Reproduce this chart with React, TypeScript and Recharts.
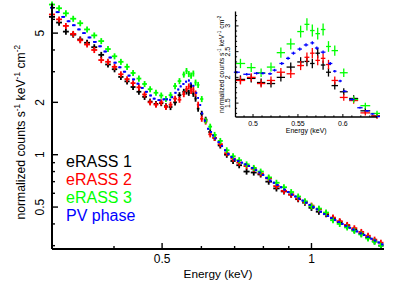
import { ScatterChart, Scatter, XAxis, YAxis, ErrorBar, Legend, CartesianGrid } from 'recharts';

const FONT = '"Liberation Sans", Arial, Helvetica, sans-serif';

// eRASS grouped spectra share one energy grid (keV)
const E_ERASS = [
  0.300, 0.310, 0.320, 0.331, 0.342, 0.353, 0.365, 0.377, 0.389, 0.401, 0.413, 0.425, 0.437, 0.449, 0.461, 0.473,
  0.486, 0.498, 0.509, 0.520, 0.531, 0.542, 0.553, 0.560, 0.566, 0.572, 0.578, 0.584, 0.591, 0.601, 0.612, 0.625, 0.638,
  0.655, 0.675, 0.695, 0.715, 0.740, 0.765, 0.790, 0.820, 0.850, 0.880, 0.910, 0.940, 0.970, 1.000, 1.035, 1.070,
  1.105, 1.140, 1.180, 1.220, 1.260, 1.300, 1.340, 1.380,
];

const ERASS1 = [
  6.2, 5.75, 5.1, 4.9, 4.6, 4.4, 4.15, 3.75, 3.3, 3.1, 2.8, 2.64, 2.45, 2.3, 2.15, 2.02,
  1.96, 1.98, 1.9, 1.88, 2.0, 2.2, 2.3, 2.31, 2.27, 2.47, 2.24, 2.1, 1.84, 1.72, 1.59, 1.35, 1.25,
  1.13, 1.0, 0.92, 0.87, 0.8, 0.79, 0.77, 0.7, 0.64, 0.615, 0.59, 0.555, 0.53, 0.495, 0.47, 0.455,
  0.43, 0.41, 0.39, 0.37, 0.352, 0.335, 0.318, 0.3,
];

const ERASS2 = [
  6.4, 6.0, 5.5, 4.95, 4.55, 4.3, 4.0, 3.5, 3.42, 3.2, 2.9, 2.72, 2.58, 2.44, 2.22, 2.0,
  1.94, 2.0, 1.88, 1.94, 2.1, 2.07, 2.23, 2.39, 2.47, 2.33, 2.37, 2.25, 1.94, 1.61, 1.55, 1.31, 1.25,
  1.15, 1.02, 0.95, 0.9, 0.86, 0.83, 0.78, 0.73, 0.66, 0.62, 0.59, 0.56, 0.535, 0.51, 0.485, 0.46,
  0.435, 0.415, 0.395, 0.378, 0.36, 0.342, 0.325, 0.312,
];

const ERASS3 = [
  7.3, 6.95, 6.5, 6.05, 5.7, 5.25, 4.85, 4.5, 4.05, 3.68, 3.42, 3.2, 2.95, 2.74, 2.55, 2.38,
  2.27, 2.19, 2.09, 2.2, 2.48, 2.65, 2.89, 3.03, 2.91, 2.85, 2.93, 2.6, 2.52, 2.09, 1.57, 1.45, 1.3,
  1.2, 1.06, 0.98, 0.93, 0.88, 0.84, 0.8, 0.74, 0.69, 0.65, 0.61, 0.575, 0.54, 0.505, 0.49, 0.465,
  0.42, 0.4, 0.382, 0.365, 0.348, 0.33, 0.316, 0.3,
];

// PV phase has finer binning
const E_PV = [
  0.300, 0.308, 0.316, 0.324, 0.332, 0.340, 0.348, 0.357, 0.366, 0.375, 0.384, 0.393, 0.402, 0.411, 0.420, 0.429,
  0.438, 0.447, 0.456, 0.465, 0.474,
  0.482, 0.493, 0.504, 0.511, 0.519, 0.524, 0.532, 0.539, 0.545, 0.552, 0.559, 0.566, 0.571, 0.578, 0.586, 0.591,
  0.597, 0.602, 0.610, 0.619, 0.627, 0.633,
  0.640, 0.650, 0.660, 0.670, 0.680, 0.690, 0.700, 0.712, 0.724, 0.736, 0.748, 0.760, 0.773, 0.786, 0.799, 0.812,
  0.826, 0.840, 0.854, 0.868, 0.883, 0.898, 0.913, 0.928, 0.944, 0.960, 0.976, 0.992, 1.009, 1.026, 1.043, 1.061,
  1.079, 1.097, 1.116, 1.135, 1.154, 1.174, 1.194, 1.214, 1.235, 1.256, 1.277, 1.299, 1.321, 1.343, 1.366, 1.389,
];

const PV = [
  7.0, 6.6, 6.2, 5.85, 5.55, 5.25, 5.0, 4.72, 4.45, 4.2, 3.92, 3.62, 3.38, 3.18, 3.0, 2.85,
  2.71, 2.56, 2.42, 2.3, 2.19,
  2.1, 2.06, 2.08, 2.08, 2.07, 2.14, 2.27, 2.37, 2.47, 2.55, 2.63, 2.67, 2.57, 2.49, 2.27, 2.12,
  1.93, 1.73, 1.57, 1.41, 1.35, 1.29,
  1.24, 1.18, 1.12, 1.06, 1.01, 0.97, 0.94, 0.92, 0.9, 0.88, 0.86, 0.84, 0.815, 0.79, 0.765, 0.735,
  0.71, 0.69, 0.67, 0.65, 0.63, 0.61, 0.59, 0.575, 0.56, 0.545, 0.53, 0.515, 0.5, 0.485, 0.47, 0.456,
  0.444, 0.432, 0.421, 0.41, 0.4, 0.39, 0.38, 0.371, 0.362, 0.353, 0.345, 0.337, 0.329, 0.321, 0.313, 0.305,
];

const MAIN_X_TICKS = [0.4, 0.5, 0.6, 0.7, 0.8, 0.9, 1];
const MAIN_X_LABELS = [0.5, 1];
const MAIN_Y_TICKS = [0.3, 0.4, 0.5, 0.6, 0.7, 0.8, 0.9, 1, 2, 3, 4, 5, 6, 7];
const MAIN_Y_LABELS = [0.5, 1, 2, 5];

const INSET_X_TICKS = [0.49, 0.5, 0.51, 0.52, 0.53, 0.54, 0.55, 0.56, 0.57, 0.58, 0.59, 0.6, 0.61, 0.62, 0.63];
const INSET_X_LABELS = [0.5, 0.55, 0.6];
const INSET_Y_TICKS = [1.3, 1.4, 1.5, 1.6, 1.7, 1.8, 1.9, 2, 2.1, 2.2, 2.3, 2.4, 2.5, 2.6, 2.7, 2.8, 2.9, 3, 3.1, 3.2];
const INSET_Y_LABELS = [1.5, 2, 2.5, 3];

const MAIN_X_DOMAIN = [0.3, 1.4];
const MAIN_Y_DOMAIN = [0.287, 7.4];
const INSET_X_DOMAIN = [0.4805, 0.638];
const INSET_Y_DOMAIN = [1.23, 3.28];

type Row = { e: number; v: number; ex: number; ey: number };

// half bin width from neighbouring channels, y error as a fraction of the value
function buildRows(energies: number[], values: number[], binFrac: number, errFrac: number): Row[] {
  return energies.map((e, i) => {
    const prev = i > 0 ? energies[i - 1] : e - (energies[i + 1] - e);
    const next = i < energies.length - 1 ? energies[i + 1] : e + (e - energies[i - 1]);
    return { e, v: values[i], ex: ((next - prev) / 2) * binFrac, ey: values[i] * errFrac };
  });
}

const SERIES = [
  { name: 'eRASS 1', color: '#000000', rows: buildRows(E_ERASS, ERASS1, 0.42, 0.04) },
  { name: 'eRASS 2', color: '#ff0000', rows: buildRows(E_ERASS, ERASS2, 0.42, 0.04) },
  { name: 'eRASS 3', color: '#00ff00', rows: buildRows(E_ERASS, ERASS3, 0.42, 0.04) },
  { name: 'PV phase', color: '#0000ff', rows: buildRows(E_PV, PV, 0.35, 0.012) },
];

type Side = 'bottom' | 'top' | 'left' | 'right';
interface TickStyle {
  major: number;
  minor: number;
  font: number;
  gap: number;
  side: number;
  lw: number;
}

const MAIN_TICK: TickStyle = { major: 6, minor: 3, font: 12, gap: 14, side: 8, lw: 1.4 };
const INSET_TICK: TickStyle = { major: 3, minor: 1.6, font: 7, gap: 8.5, side: 5, lw: 1 };

function FrameTick(props: any) {
  const { x, y, payload, side, st, labels } = props as {
    x: number; y: number; payload: { value: number }; side: Side; st: TickStyle; labels: number[];
  };
  const v = payload.value;
  const major = labels.includes(v);
  const len = major ? st.major : st.minor;
  let x2 = x;
  let y2 = y;
  if (side === 'bottom') y2 = y - len;
  if (side === 'top') y2 = y + len;
  if (side === 'left') x2 = x + len;
  if (side === 'right') x2 = x - len;

  let label = null;
  if (major && side === 'bottom') {
    label = (
      <text x={x} y={y + st.gap} textAnchor="middle" fontSize={st.font} fontFamily={FONT} fill="#000">
        {v}
      </text>
    );
  }
  if (major && side === 'left') {
    const tx = x - st.side;
    label = (
      <text x={tx} y={y} transform={`rotate(-90 ${tx} ${y})`} textAnchor="middle" fontSize={st.font} fontFamily={FONT} fill="#000">
        {v}
      </text>
    );
  }
  return (
    <g>
      <line x1={x} y1={y} x2={x2} y2={y2} stroke="#000" strokeWidth={st.lw} />
      {label}
    </g>
  );
}

function XTitle({ viewBox, size, dy }: any) {
  const { x, y, width } = viewBox;
  return (
    <text x={x + width / 2} y={y + dy} textAnchor="middle" fontSize={size} fontFamily={FONT} fill="#000">
      Energy (keV)
    </text>
  );
}

function YTitle({ viewBox, size, dx, shift }: any) {
  const { x, y, width, height } = viewBox;
  const cx = x + width - dx;
  const cy = y + height / 2 + shift;
  const sup = size * 0.68;
  const up = size * 0.38;
  return (
    <text x={cx} y={cy} transform={`rotate(-90 ${cx} ${cy})`} textAnchor="middle" fontSize={size} fontFamily={FONT} fill="#000">
      normalized counts s
      <tspan dy={-up} fontSize={sup}>-1</tspan>
      <tspan dy={up}> keV</tspan>
      <tspan dy={-up} fontSize={sup}>-1</tspan>
      <tspan dy={up}> cm</tspan>
      <tspan dy={-up} fontSize={sup}>-2</tspan>
    </text>
  );
}

function SeriesLayer({ xId, yId, rows, color, name, strokeWidth }: any) {
  return (
    <Scatter
      key={name}
      name={name}
      data={rows}
      xAxisId={xId}
      yAxisId={yId}
      fill={color}
      shape={() => <g />}
      isAnimationActive={false}
    >
      <ErrorBar dataKey="ex" direction="x" width={0} stroke={color} strokeWidth={strokeWidth} isAnimationActive={false} />
      <ErrorBar dataKey="ey" direction="y" width={0} stroke={color} strokeWidth={strokeWidth} isAnimationActive={false} />
    </Scatter>
  );
}

function LegendBox() {
  return (
    <div style={{ fontFamily: FONT, fontSize: 16, lineHeight: '18px' }}>
      {SERIES.map(s => (
        <div key={s.name} style={{ color: s.color, whiteSpace: 'nowrap' }}>
          {s.name}
        </div>
      ))}
    </div>
  );
}

function MainChart() {
  const axisLine = { stroke: '#000', strokeWidth: 2 };
  return (
    <ScatterChart width={399} height={282} margin={{ top: 3.5, right: 15, bottom: 0, left: 0 }}>
      <XAxis
        xAxisId="b"
        type="number"
        dataKey="e"
        scale="log"
        domain={MAIN_X_DOMAIN}
        allowDataOverflow
        ticks={MAIN_X_TICKS}
        interval={0}
        tickSize={0}
        tickMargin={0}
        height={33}
        axisLine={axisLine}
        tick={(p: any) => <FrameTick {...p} side="bottom" st={MAIN_TICK} labels={MAIN_X_LABELS} />}
        label={(p: any) => <XTitle {...p} size={11.8} dy={29} />}
      />
      <XAxis
        xAxisId="t"
        orientation="top"
        type="number"
        dataKey="e"
        scale="log"
        domain={MAIN_X_DOMAIN}
        allowDataOverflow
        ticks={MAIN_X_TICKS}
        interval={0}
        tickSize={0}
        tickMargin={0}
        height={0}
        axisLine={axisLine}
        tick={(p: any) => <FrameTick {...p} side="top" st={MAIN_TICK} labels={MAIN_X_LABELS} />}
      />
      <YAxis
        yAxisId="l"
        type="number"
        dataKey="v"
        scale="log"
        domain={MAIN_Y_DOMAIN}
        allowDataOverflow
        ticks={MAIN_Y_TICKS}
        interval={0}
        tickSize={0}
        tickMargin={0}
        width={52}
        axisLine={axisLine}
        tick={(p: any) => <FrameTick {...p} side="left" st={MAIN_TICK} labels={MAIN_Y_LABELS} />}
        label={(p: any) => <YTitle {...p} size={12.2} dx={27.5} shift={6} />}
      />
      <YAxis
        yAxisId="r"
        orientation="right"
        type="number"
        dataKey="v"
        scale="log"
        domain={MAIN_Y_DOMAIN}
        allowDataOverflow
        ticks={MAIN_Y_TICKS}
        interval={0}
        tickSize={0}
        tickMargin={0}
        width={0}
        axisLine={axisLine}
        tick={(p: any) => <FrameTick {...p} side="right" st={MAIN_TICK} labels={MAIN_Y_LABELS} />}
      />
      {SERIES.map(s => SeriesLayer({ xId: 'b', yId: 'l', rows: s.rows, color: s.color, name: s.name, strokeWidth: 1.8 }))}
      <Legend
        layout="vertical"
        align="center"
        verticalAlign="middle"
        wrapperStyle={{ left: 66, top: 153, width: 'auto' }}
        content={() => <LegendBox />}
      />
    </ScatterChart>
  );
}

function InsetChart() {
  const axisLine = { stroke: '#000', strokeWidth: 1.3 };
  const inRange = (r: Row) => r.e > INSET_X_DOMAIN[0] - 0.005 && r.e < INSET_X_DOMAIN[1] + 0.005;
  return (
    <ScatterChart width={175} height={135} margin={{ top: 11.5, right: 3, bottom: 0, left: 0 }}>
      <CartesianGrid xAxisId="b" yAxisId="l" horizontal={false} vertical={false} fill="#ffffff" fillOpacity={1} />
      <XAxis
        xAxisId="b"
        type="number"
        dataKey="e"
        domain={INSET_X_DOMAIN}
        allowDataOverflow
        ticks={INSET_X_TICKS}
        interval={0}
        tickSize={0}
        tickMargin={0}
        height={18}
        axisLine={axisLine}
        tick={(p: any) => <FrameTick {...p} side="bottom" st={INSET_TICK} labels={INSET_X_LABELS} />}
        label={(p: any) => <XTitle {...p} size={7} dy={15.5} />}
      />
      <XAxis
        xAxisId="t"
        orientation="top"
        type="number"
        dataKey="e"
        domain={INSET_X_DOMAIN}
        allowDataOverflow
        ticks={INSET_X_TICKS}
        interval={0}
        tickSize={0}
        tickMargin={0}
        height={0}
        axisLine={axisLine}
        tick={(p: any) => <FrameTick {...p} side="top" st={INSET_TICK} labels={INSET_X_LABELS} />}
      />
      <YAxis
        yAxisId="l"
        type="number"
        dataKey="v"
        domain={INSET_Y_DOMAIN}
        allowDataOverflow
        ticks={INSET_Y_TICKS}
        interval={0}
        tickSize={0}
        tickMargin={0}
        width={30.5}
        axisLine={axisLine}
        tick={(p: any) => <FrameTick {...p} side="left" st={INSET_TICK} labels={INSET_Y_LABELS} />}
        label={(p: any) => <YTitle {...p} size={6.8} dx={12} shift={0} />}
      />
      <YAxis
        yAxisId="r"
        orientation="right"
        type="number"
        dataKey="v"
        domain={INSET_Y_DOMAIN}
        allowDataOverflow
        ticks={INSET_Y_TICKS}
        interval={0}
        tickSize={0}
        tickMargin={0}
        width={0}
        axisLine={axisLine}
        tick={(p: any) => <FrameTick {...p} side="right" st={INSET_TICK} labels={INSET_Y_LABELS} />}
      />
      {SERIES.map(s =>
        SeriesLayer({ xId: 'b', yId: 'l', rows: s.rows.filter(inRange), color: s.color, name: s.name, strokeWidth: 1.3 }),
      )}
    </ScatterChart>
  );
}

export default function App() {
  return (
    <div style={{ position: 'absolute', left: 0, top: 0, width: 399, height: 282, background: '#fff', fontFamily: FONT }}>
      <div style={{ position: 'absolute', left: 0, top: 0 }}>
        <MainChart />
      </div>
      <div style={{ position: 'absolute', left: 205, top: 0 }}>
        <InsetChart />
      </div>
    </div>
  );
}
